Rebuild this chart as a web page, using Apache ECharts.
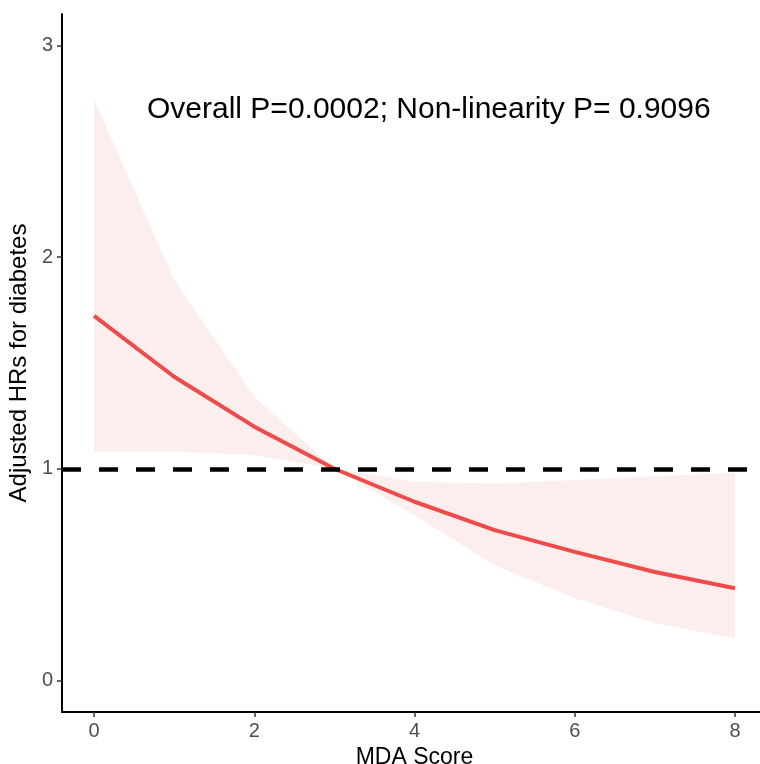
<!DOCTYPE html>
<html>
<head>
<meta charset="utf-8">
<style>html,body{margin:0;padding:0;background:#fff;}#chart{width:760px;height:764px;}</style>
<script src="https://cdn.jsdelivr.net/npm/echarts@6/dist/echarts.min.js"></script>
</head>
<body>
<div id="chart"></div>
<script>
var scores = [0, 1, 2, 3, 4, 5, 6, 7, 8];
var hrValues = [1.723, 1.435, 1.199, 1.0, 0.844, 0.71, 0.607, 0.512, 0.435];
var upperCI = [2.745, 1.893, 1.34, 1.0, 0.938, 0.93, 0.947, 0.965, 0.981];
var lowerCI = [1.08, 1.08, 1.065, 1.0, 0.78, 0.544, 0.388, 0.271, 0.198];
var xTicks = [0, 2, 4, 6, 8];
var yTicks = [0, 1, 2, 3];
var annotation = 'Overall P=0.0002; Non-linearity P= 0.9096';

var chart = echarts.init(document.getElementById('chart'));
var font = '"Liberation Sans", Arial, Helvetica, sans-serif';

var lineData = scores.map(function (x, i) { return [x, hrValues[i]]; });

chart.setOption({
  animation: false,
  backgroundColor: '#ffffff',
  grid: { left: 62, top: 14, width: 705, height: 698, containLabel: false, outerBoundsMode: 'none' },
  xAxis: {
    type: 'value', min: -0.4, max: 8.4,
    name: 'MDA Score', nameLocation: 'middle', nameGap: 28,
    nameTextStyle: { fontFamily: font, fontSize: 23, color: '#000' },
    axisLine: { show: true, onZero: false, lineStyle: { color: '#000', width: 2 } },
    axisTick: { show: true, length: 5, customValues: xTicks, lineStyle: { color: '#333', width: 1.5 } },
    axisLabel: { customValues: xTicks, margin: 9, fontFamily: font, fontSize: 20, color: '#4d4d4d' },
    splitLine: { show: false }
  },
  yAxis: {
    type: 'value', min: -0.15, max: 3.15,
    name: 'Adjusted HRs for diabetes', nameLocation: 'middle', nameGap: 25,
    nameTextStyle: { fontFamily: font, fontSize: 24, color: '#000' },
    axisLine: { show: true, onZero: false, lineStyle: { color: '#000', width: 2 } },
    axisTick: { show: true, length: 5, customValues: yTicks, lineStyle: { color: '#333', width: 1.5 } },
    axisLabel: { customValues: yTicks, margin: 9, fontFamily: font, fontSize: 20, color: '#4d4d4d' },
    splitLine: { show: false }
  },
  graphic: [{
    type: 'text', left: 147, top: 95, z: 100,
    style: { text: annotation, font: '30px ' + font, fill: '#000' }
  }],
  series: [
    {
      type: 'custom', silent: true, z: 1,
      data: scores.map(function (x, i) { return [x, lowerCI[i], upperCI[i]]; }),
      encode: { x: 0, y: [1, 2] },
      renderItem: function (params, api) {
        if (params.dataIndex !== 0) { return null; }
        var pts = [];
        for (var i = 0; i < scores.length; i++) { pts.push(api.coord([scores[i], upperCI[i]])); }
        for (var j = scores.length - 1; j >= 0; j--) { pts.push(api.coord([scores[j], lowerCI[j]])); }
        return { type: 'polygon', shape: { points: pts }, style: { fill: '#fdeeee' } };
      }
    },
    {
      type: 'line', data: lineData, symbol: 'none', z: 3,
      lineStyle: { color: '#ef4b4b', width: 4 },
      markLine: {
        silent: true, symbol: 'none', label: { show: false },
        lineStyle: { color: '#000', width: 4.5, type: [19, 18] },
        data: [{ yAxis: 1 }]
      }
    }
  ]
});
</script>
</body>
</html>
